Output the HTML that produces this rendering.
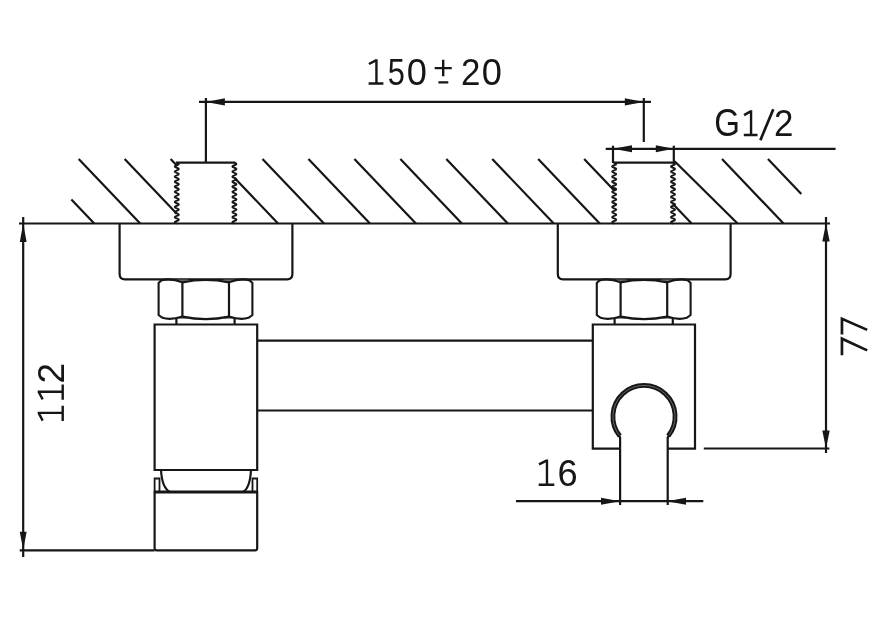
<!DOCTYPE html>
<html><head><meta charset="utf-8"><style>
html,body{margin:0;padding:0;background:#fff;}
svg{display:block;}
.wrap{will-change:transform;width:879px;height:621px;}
text{font-family:"Liberation Sans", sans-serif;fill:#161616;}
</style></head><body><div class="wrap">
<svg width="879" height="621" viewBox="0 0 879 621">
<rect width="879" height="621" fill="#fff"/>
<g stroke="#161616" fill="none" stroke-linecap="butt" stroke-linejoin="miter">
<line x1="199" y1="101.9" x2="651" y2="101.9" stroke-width="2.2"/>
<polygon points="205.9,101.9 224.9,98.35 224.9,105.45" fill="#161616" stroke="none"/>
<polygon points="643.8,101.9 624.8,105.45 624.8,98.35" fill="#161616" stroke="none"/>
<line x1="205.9" y1="98" x2="205.9" y2="163" stroke-width="2.2"/>
<line x1="643.8" y1="98" x2="643.8" y2="142" stroke-width="2.2"/>
<line x1="71.37" y1="199.5" x2="94.25" y2="223.5" stroke-width="2.2"/>
<line x1="78.7" y1="159" x2="140.2" y2="223.5" stroke-width="2.2"/>
<line x1="124.65" y1="159" x2="176.8" y2="213.69" stroke-width="2.2"/>
<line x1="170.6" y1="159" x2="176.8" y2="165.5" stroke-width="2.2"/>
<line x1="234.4" y1="177.72" x2="278.05" y2="223.5" stroke-width="2.2"/>
<line x1="262.5" y1="159" x2="324.0" y2="223.5" stroke-width="2.2"/>
<line x1="308.45" y1="159" x2="369.95" y2="223.5" stroke-width="2.2"/>
<line x1="354.4" y1="159" x2="415.9" y2="223.5" stroke-width="2.2"/>
<line x1="400.35" y1="159" x2="461.85" y2="223.5" stroke-width="2.2"/>
<line x1="446.3" y1="159" x2="507.8" y2="223.5" stroke-width="2.2"/>
<line x1="492.25" y1="159" x2="553.75" y2="223.5" stroke-width="2.2"/>
<line x1="538.2" y1="159" x2="599.7" y2="223.5" stroke-width="2.2"/>
<line x1="584.15" y1="159" x2="614.2" y2="190.52" stroke-width="2.2"/>
<line x1="673" y1="203.99" x2="691.6" y2="223.5" stroke-width="2.2"/>
<line x1="674.6" y1="161.2" x2="737.55" y2="223.5" stroke-width="2.2"/>
<line x1="722.0" y1="159" x2="783.5" y2="223.5" stroke-width="2.2"/>
<line x1="767.95" y1="159" x2="801.32" y2="194" stroke-width="2.2"/>
<line x1="19" y1="223.5" x2="830" y2="223.5" stroke-width="2.2"/>
<line x1="175.9" y1="162.7" x2="235.3" y2="162.7" stroke-width="2.2"/>
<path d="M176.8,162.7 Q181.0,163.97 176.8,165.23 Q172.6,166.5 176.8,167.77 Q181.0,169.03 176.8,170.3 Q172.6,171.57 176.8,172.83 Q181.0,174.1 176.8,175.37 Q172.6,176.63 176.8,177.9 Q181.0,179.17 176.8,180.43 Q172.6,181.7 176.8,182.97 Q181.0,184.23 176.8,185.5 Q172.6,186.77 176.8,188.03 Q181.0,189.3 176.8,190.57 Q172.6,191.83 176.8,193.1 Q181.0,194.37 176.8,195.63 Q172.6,196.9 176.8,198.17 Q181.0,199.43 176.8,200.7 Q172.6,201.97 176.8,203.23 Q181.0,204.5 176.8,205.77 Q172.6,207.03 176.8,208.3 Q181.0,209.57 176.8,210.83 Q172.6,212.1 176.8,213.37 Q181.0,214.63 176.8,215.9 Q172.6,217.17 176.8,218.43 Q181.0,219.7 176.8,220.97 Q172.6,222.23 176.8,223.5" stroke-width="1.9" fill="none"/>
<path d="M234.4,162.7 Q238.6,163.97 234.4,165.23 Q230.2,166.5 234.4,167.77 Q238.6,169.03 234.4,170.3 Q230.2,171.57 234.4,172.83 Q238.6,174.1 234.4,175.37 Q230.2,176.63 234.4,177.9 Q238.6,179.17 234.4,180.43 Q230.2,181.7 234.4,182.97 Q238.6,184.23 234.4,185.5 Q230.2,186.77 234.4,188.03 Q238.6,189.3 234.4,190.57 Q230.2,191.83 234.4,193.1 Q238.6,194.37 234.4,195.63 Q230.2,196.9 234.4,198.17 Q238.6,199.43 234.4,200.7 Q230.2,201.97 234.4,203.23 Q238.6,204.5 234.4,205.77 Q230.2,207.03 234.4,208.3 Q238.6,209.57 234.4,210.83 Q230.2,212.1 234.4,213.37 Q238.6,214.63 234.4,215.9 Q230.2,217.17 234.4,218.43 Q238.6,219.7 234.4,220.97 Q230.2,222.23 234.4,223.5" stroke-width="1.9" fill="none"/>
<line x1="613.3000000000001" y1="162.7" x2="673.9" y2="162.7" stroke-width="2.2"/>
<path d="M614.2,162.7 Q618.4,163.97 614.2,165.23 Q610.0,166.5 614.2,167.77 Q618.4,169.03 614.2,170.3 Q610.0,171.57 614.2,172.83 Q618.4,174.1 614.2,175.37 Q610.0,176.63 614.2,177.9 Q618.4,179.17 614.2,180.43 Q610.0,181.7 614.2,182.97 Q618.4,184.23 614.2,185.5 Q610.0,186.77 614.2,188.03 Q618.4,189.3 614.2,190.57 Q610.0,191.83 614.2,193.1 Q618.4,194.37 614.2,195.63 Q610.0,196.9 614.2,198.17 Q618.4,199.43 614.2,200.7 Q610.0,201.97 614.2,203.23 Q618.4,204.5 614.2,205.77 Q610.0,207.03 614.2,208.3 Q618.4,209.57 614.2,210.83 Q610.0,212.1 614.2,213.37 Q618.4,214.63 614.2,215.9 Q610.0,217.17 614.2,218.43 Q618.4,219.7 614.2,220.97 Q610.0,222.23 614.2,223.5" stroke-width="1.9" fill="none"/>
<path d="M673.0,162.7 Q677.2,163.97 673.0,165.23 Q668.8,166.5 673.0,167.77 Q677.2,169.03 673.0,170.3 Q668.8,171.57 673.0,172.83 Q677.2,174.1 673.0,175.37 Q668.8,176.63 673.0,177.9 Q677.2,179.17 673.0,180.43 Q668.8,181.7 673.0,182.97 Q677.2,184.23 673.0,185.5 Q668.8,186.77 673.0,188.03 Q677.2,189.3 673.0,190.57 Q668.8,191.83 673.0,193.1 Q677.2,194.37 673.0,195.63 Q668.8,196.9 673.0,198.17 Q677.2,199.43 673.0,200.7 Q668.8,201.97 673.0,203.23 Q677.2,204.5 673.0,205.77 Q668.8,207.03 673.0,208.3 Q677.2,209.57 673.0,210.83 Q668.8,212.1 673.0,213.37 Q677.2,214.63 673.0,215.9 Q668.8,217.17 673.0,218.43 Q677.2,219.7 673.0,220.97 Q668.8,222.23 673.0,223.5" stroke-width="1.9" fill="none"/>
<line x1="605.7" y1="148.8" x2="835.6" y2="148.8" stroke-width="2.2"/>
<polygon points="613.0,148.8 632.0,145.25 632.0,152.35" fill="#161616" stroke="none"/>
<polygon points="673.8,148.8 655.8,152.35 655.8,145.25" fill="#161616" stroke="none"/>
<line x1="613.0" y1="145.7" x2="613.0" y2="163" stroke-width="2.2"/>
<line x1="673.8" y1="145.7" x2="673.8" y2="163" stroke-width="2.2"/>
<path d="M119.6,223.5 V274 Q119.6,279.3 124.89999999999999,279.3 H287.09999999999997 Q292.4,279.3 292.4,274 V223.5" stroke-width="2.2" fill="none"/>
<polygon points="176.4,279.4 188.4,279.4 182.4,282.6" fill="#6a6a6a" stroke="none"/>
<polygon points="176.4,318.8 188.4,318.8 182.4,316.4" fill="#6a6a6a" stroke="none"/>
<polygon points="223.0,279.4 235.0,279.4 229.0,282.6" fill="#6a6a6a" stroke="none"/>
<polygon points="223.0,318.8 235.0,318.8 229.0,316.4" fill="#6a6a6a" stroke="none"/>
<path d="M158.6,283 L161.2,280.4 Q170.5,277.6 182.4,282.4 Q205.7,277.6 229.0,282.4 Q240.7,277.6 249.8,280.4 L252.4,283 V315 L248.6,317.8 Q240.7,320.4 229.0,316.6 Q205.7,321.6 182.4,316.6 Q170.5,320.4 162.4,317.8 L158.6,315 Z" stroke-width="2.1" fill="none"/>
<line x1="182.4" y1="282.2" x2="182.4" y2="316.6" stroke-width="2.2"/>
<line x1="229.0" y1="282.2" x2="229.0" y2="316.6" stroke-width="2.2"/>
<line x1="176.4" y1="318.5" x2="176.4" y2="324.5" stroke-width="2.2"/>
<line x1="234.6" y1="318.5" x2="234.6" y2="324.5" stroke-width="2.2"/>
<path d="M557.8,223.5 V274 Q557.8,279.3 563.0999999999999,279.3 H725.3 Q730.5999999999999,279.3 730.5999999999999,274 V223.5" stroke-width="2.2" fill="none"/>
<polygon points="614.6,279.4 626.6,279.4 620.6,282.6" fill="#6a6a6a" stroke="none"/>
<polygon points="614.6,318.8 626.6,318.8 620.6,316.4" fill="#6a6a6a" stroke="none"/>
<polygon points="661.2,279.4 673.2,279.4 667.2,282.6" fill="#6a6a6a" stroke="none"/>
<polygon points="661.2,318.8 673.2,318.8 667.2,316.4" fill="#6a6a6a" stroke="none"/>
<path d="M596.8,283 L599.4,280.4 Q608.7,277.6 620.6,282.4 Q643.9000000000001,277.6 667.2,282.4 Q678.9000000000001,277.6 688.0,280.4 L690.6,283 V315 L686.8000000000001,317.8 Q678.9000000000001,320.4 667.2,316.6 Q643.9000000000001,321.6 620.6,316.6 Q608.7,320.4 600.5999999999999,317.8 L596.8,315 Z" stroke-width="2.1" fill="none"/>
<line x1="620.6" y1="282.2" x2="620.6" y2="316.6" stroke-width="2.2"/>
<line x1="667.2" y1="282.2" x2="667.2" y2="316.6" stroke-width="2.2"/>
<line x1="614.6" y1="318.5" x2="614.6" y2="324.5" stroke-width="2.2"/>
<line x1="672.8" y1="318.5" x2="672.8" y2="324.5" stroke-width="2.2"/>
<path d="M154.6,324.5 H257.2 V470 H154.6 Z" stroke-width="2.2" fill="none"/>
<line x1="257.2" y1="340.6" x2="592.8" y2="340.6" stroke-width="2.2"/>
<line x1="257.2" y1="410.5" x2="592.8" y2="410.5" stroke-width="2.2"/>
<path d="M161,470 Q162,488 170,492 M251,470 Q250,488 243,492" stroke-width="2.2" fill="none"/>
<path d="M154.6,492.5 V478.5 H159.5 V492.5 M257.2,492.5 V478.5 H252.5 V492.5" stroke-width="1.8" fill="none"/>
<path d="M154.6,492.5 H257.2 V548 Q257.2,550.3 255.2,550.3 H156.6 Q154.6,550.3 154.6,548 Z" stroke-width="2.2" fill="none"/>
<line x1="154.6" y1="491.8" x2="257.2" y2="491.8" stroke-width="2.4"/>
<path d="M620,448.6 H592.8 V324.5 H695.0 V448.6 H667" stroke-width="2.2" fill="none"/>
<path d="M619.83,436.07 A31.1,31.1 0 1 1 668.17,436.07" stroke-width="4.8" fill="none"/>
<path d="M620.89,437.31 A31.1,31.1 0 1 1 667.11,437.31" stroke="#8a8a8a" stroke-width="0.7" fill="none"/>
<path d="M620.1,505 V437.5 L618.6,435.2 M667.7,505 V437.5 L669.2,435.2" stroke-width="2.2" fill="none"/>
<line x1="516" y1="501.2" x2="703.3" y2="501.2" stroke-width="2.2"/>
<polygon points="620,501.2 601.0,504.75 601.0,497.65" fill="#161616" stroke="none"/>
<polygon points="667,501.2 686.0,497.65 686.0,504.75" fill="#161616" stroke="none"/>
<line x1="23.2" y1="217" x2="23.2" y2="557" stroke-width="2.2"/>
<polygon points="23.2,223.5 26.6,242.0 19.8,242.0" fill="#161616" stroke="none"/>
<polygon points="23.2,550.3 19.8,531.8 26.6,531.8" fill="#161616" stroke="none"/>
<line x1="19.7" y1="550.3" x2="154.6" y2="550.3" stroke-width="2.2"/>
<line x1="826" y1="217" x2="826" y2="453" stroke-width="2.2"/>
<polygon points="826,223.5 829.7,241.5 822.3,241.5" fill="#161616" stroke="none"/>
<polygon points="826,448.5 822.3,430.5 829.7,430.5" fill="#161616" stroke="none"/>
<line x1="703.8" y1="448.5" x2="829.4" y2="448.5" stroke-width="2.2"/>
</g>
<g stroke="none"><path d="M376.44,59.2 L376.44,83.5 M368.9,64.05 L376.44,60.09 M368.6,83.5 L383.4,83.5" stroke="#161616" stroke-width="2.4" fill="none"/>
<text transform="matrix(0.3079,0,0,0.3698,387.67,84.94)" font-size="100">5</text>
<text transform="matrix(0.3619,0,0,0.3715,406.79,84.94)" font-size="100">0</text>
<path d="M434.7,68.1 H451.7 M443.2,59.8 V76.3 M438.4,82.4 H448.3" stroke="#161616" stroke-width="2.4" fill="none"/>
<text transform="matrix(0.3490,0,0,0.3695,461.04,84.90)" font-size="100">2</text>
<text transform="matrix(0.3619,0,0,0.3715,481.79,84.94)" font-size="100">0</text>
<text transform="matrix(0.3309,0,0,0.3799,714.24,136.23)" font-size="100">G</text>
<path d="M751.06,110.2 L751.06,135.0 M744.07,115.14 L751.06,111.11 M743.8,135.0 L757.5,135.0" stroke="#161616" stroke-width="2.4" fill="none"/>
<path d="M760.4,140.2 L773.3,109.3" stroke="#161616" stroke-width="2.7" fill="none"/>
<text transform="matrix(0.3490,0,0,0.3752,773.94,136.20)" font-size="100">2</text>
<path d="M546.97,459.4 L546.97,484.7 M539.01,464.44 L546.97,460.33 M538.7,484.7 L554.3,484.7" stroke="#161616" stroke-width="2.4" fill="none"/>
<text transform="matrix(0.3619,0,0,0.3729,557.46,485.84)" font-size="100">6</text>
<path d="M841.95,355.2 L841.95,338.71 L867.2,350.36" stroke="#161616" stroke-width="2.7" fill="none" stroke-linejoin="miter"/>
<path d="M841.95,334.5 L841.95,318.81 L867.2,329.88" stroke="#161616" stroke-width="2.7" fill="none" stroke-linejoin="miter"/>
<path d="M37.7,412.9 L62.7,412.9 M42.68,420.6 L38.62,412.9 M62.7,420.9 L62.7,405.8" stroke="#161616" stroke-width="2.4" fill="none"/>
<path d="M37.7,391.7 L62.7,391.7 M42.68,399.4 L38.62,391.7 M62.7,399.7 L62.7,384.6" stroke="#161616" stroke-width="2.4" fill="none"/>
<text transform="matrix(0,-0.3710,0.3752,0,63.90,383.47)" font-size="100">2</text></g>
</svg></div>
</body></html>
